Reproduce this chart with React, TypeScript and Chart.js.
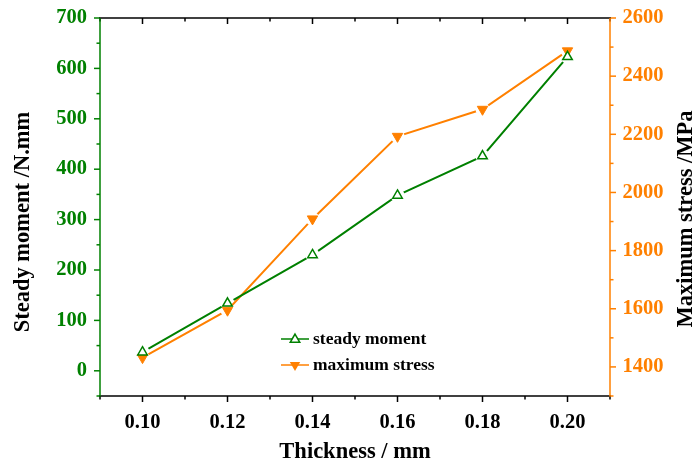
import { useEffect, useRef } from 'react';
import { Chart, registerables } from 'chart.js';

Chart.register(...registerables);

// Thickness of the sheet (mm)
const thickness = [0.10, 0.12, 0.14, 0.16, 0.18, 0.20];
// Steady moment (N.mm), left axis
const steadyMoment = [37, 134, 230, 348, 426, 623];
// Maximum stress (MPa), right axis
const maximumStress = [1432, 1595, 1909, 2193, 2286, 2487];

const seriesLabels = ['steady moment', 'maximum stress'];
const xTitle = 'Thickness / mm';
const leftTitle = 'Steady moment /N.mm';
const rightTitle = 'Maximum stress /MPa';

const GREEN = 'rgb(0,128,0)';
const ORANGE = 'rgb(255,128,0)';
const INK = '#000';
const FONT = "'Liberation Serif', 'Times New Roman', serif";

const TICK_FONT = { family: FONT, size: 20.5, weight: 'bold' as const };

function triangle(ctx: CanvasRenderingContext2D, x: number, y: number, r: number, down: boolean) {
  const s = down ? -1 : 1;
  ctx.beginPath();
  ctx.moveTo(x, y - s * r);
  ctx.lineTo(x + r * Math.sin((2 * Math.PI) / 3), y + s * r / 2);
  ctx.lineTo(x - r * Math.sin((2 * Math.PI) / 3), y + s * r / 2);
  ctx.closePath();
}

// Leaves a small gap in each line around its own markers.
const lineGaps = {
  id: 'lineGaps',
  beforeDatasetDraw(chart: any, args: any) {
    const ds = chart.data.datasets[args.index];
    if (!ds.gapLine) return;
    const { ctx, width, height } = chart;
    ctx.save();
    ctx.beginPath();
    ctx.rect(0, 0, width, height);
    for (const pt of args.meta.data) {
      ctx.moveTo(pt.x + 7, pt.y);
      ctx.arc(pt.x, pt.y, 7, 0, Math.PI * 2);
    }
    ctx.clip('evenodd');
  },
  afterDatasetDraw(chart: any, args: any) {
    const ds = chart.data.datasets[args.index];
    if (!ds.gapLine) return;
    chart.ctx.restore();
  },
};

// Axis frame with major/minor ticks, axis titles and the inset legend.
const frame = {
  id: 'frame',
  afterDraw(chart: any) {
    const { ctx, chartArea: a, scales } = chart;
    ctx.save();
    ctx.lineWidth = 1.5;
    ctx.lineCap = 'butt';

    const seg = (x1: number, y1: number, x2: number, y2: number, c: string) => {
      ctx.strokeStyle = c;
      ctx.beginPath();
      ctx.moveTo(x1, y1);
      ctx.lineTo(x2, y2);
      ctx.stroke();
    };

    // x axis: outward ticks at the bottom, inward ticks at the top
    for (const t of scales.x.ticks) {
      const px = scales.x.getPixelForValue(t.value);
      const len = t.label ? 6 : 3.5;
      seg(px, a.bottom, px, a.bottom + len, INK);
      seg(px, a.top, px, a.top + len, INK);
    }
    for (const t of scales.y.ticks) {
      const py = scales.y.getPixelForValue(t.value);
      const len = t.label ? 6 : 3.5;
      seg(a.left - len, py, a.left, py, GREEN);
    }
    for (const t of scales.y2.ticks) {
      const py = scales.y2.getPixelForValue(t.value);
      const len = t.label ? 6 : 3.5;
      seg(a.right, py, a.right + len, py, ORANGE);
    }
    seg(a.left - 0.75, a.top, a.right + 0.75, a.top, INK);
    seg(a.left - 0.75, a.bottom, a.right + 0.75, a.bottom, INK);
    seg(a.left, a.top, a.left, a.bottom + 0.75, GREEN);
    seg(a.right, a.top, a.right, a.bottom + 0.75, ORANGE);

    // axis titles
    ctx.fillStyle = INK;
    ctx.font = `bold 22.5px ${FONT}`;
    ctx.textAlign = 'center';
    ctx.textBaseline = 'middle';
    ctx.fillText(xTitle, (a.left + a.right) / 2, a.bottom + 56);

    const midY = (a.top + a.bottom) / 2;
    ctx.save();
    ctx.translate(23, midY + 15);
    ctx.rotate(-Math.PI / 2);
    ctx.fillText(leftTitle, 0, 0);
    ctx.restore();

    ctx.save();
    ctx.translate(a.right + 76, midY + 12);
    ctx.rotate(-Math.PI / 2);
    ctx.fillText(rightTitle, 0, 0);
    ctx.restore();

    // legend
    const lx = a.left + 181;
    const rows = [a.top + 321, a.top + 347];
    ctx.font = `bold 17.5px ${FONT}`;
    ctx.textAlign = 'left';
    rows.forEach((ry, i) => {
      const c = i === 0 ? GREEN : ORANGE;
      seg(lx, ry, lx + 28, ry, c);
      const cx = lx + 14;
      if (i === 0) {
        triangle(ctx, cx, ry + 0.5, 5.5, false);
        ctx.fillStyle = '#fff';
        ctx.fill();
        ctx.strokeStyle = GREEN;
        ctx.stroke();
      } else {
        triangle(ctx, cx, ry, 6, true);
        ctx.fillStyle = ORANGE;
        ctx.fill();
      }
      ctx.fillStyle = INK;
      ctx.fillText(seriesLabels[i], lx + 32, ry);
    });

    ctx.restore();
  },
};

const fixWidth = (w: number) => (s: any) => {
  s.width = w;
  s.paddingTop = 0;
  s.paddingBottom = 0;
};

export default function App() {
  const canvasRef = useRef<HTMLCanvasElement | null>(null);

  useEffect(() => {
    const canvas = canvasRef.current;
    if (!canvas) return;

    const momentPts = thickness.map((t, i) => ({ x: t, y: steadyMoment[i] }));
    const stressPts = thickness.map((t, i) => ({ x: t, y: maximumStress[i] }));

    const chart = new Chart(canvas, {
      type: 'line',
      data: {
        datasets: [
          {
            label: seriesLabels[0],
            data: momentPts,
            yAxisID: 'y',
            borderColor: GREEN,
            borderWidth: 2,
            pointRadius: 0,
            fill: false,
            order: 2,
            gapLine: true,
          } as any,
          {
            label: seriesLabels[1],
            data: stressPts,
            yAxisID: 'y2',
            borderColor: ORANGE,
            borderWidth: 2,
            pointRadius: 0,
            fill: false,
            order: 2,
            gapLine: true,
          } as any,
          {
            label: seriesLabels[0],
            data: momentPts,
            yAxisID: 'y',
            showLine: false,
            pointStyle: 'triangle',
            pointRadius: 5.5,
            pointBorderWidth: 1.5,
            pointBorderColor: GREEN,
            pointBackgroundColor: '#fff',
            order: 1,
          },
          {
            label: seriesLabels[1],
            data: stressPts,
            yAxisID: 'y2',
            showLine: false,
            pointStyle: 'triangle',
            pointRotation: 180,
            pointRadius: 6,
            pointBorderWidth: 1,
            pointBorderColor: ORANGE,
            pointBackgroundColor: ORANGE,
            order: 1,
          },
        ],
      },
      options: {
        responsive: false,
        animation: false,
        events: [],
        layout: { padding: { top: 18, left: 0, right: 0, bottom: 0 } },
        plugins: {
          legend: { display: false },
          tooltip: { enabled: false },
          title: { display: false },
        },
        scales: {
          x: {
            type: 'linear',
            position: 'bottom',
            min: 0.09,
            max: 0.21,
            grid: { display: false, drawTicks: false },
            border: { display: false },
            afterFit: (s: any) => { s.height = 65; s.paddingLeft = 0; s.paddingRight = 0; },
            ticks: {
              stepSize: 0.01,
              autoSkip: false,
              maxRotation: 0,
              padding: 14,
              color: INK,
              font: TICK_FONT,
              callback: (v: any) => {
                const k = Math.round(Number(v) * 100);
                return k % 2 === 0 ? (k / 100).toFixed(2) : '';
              },
            },
          },
          y: {
            type: 'linear',
            position: 'left',
            min: -50,
            max: 700,
            grid: { display: false, drawTicks: false },
            border: { display: false },
            afterFit: fixWidth(100),
            ticks: {
              stepSize: 50,
              autoSkip: false,
              padding: 13,
              color: GREEN,
              font: TICK_FONT,
              callback: (v: any) => (Math.round(Number(v)) % 100 === 0 ? String(v) : ''),
            },
          },
          y2: {
            type: 'linear',
            position: 'right',
            min: 1300,
            max: 2600,
            grid: { display: false, drawTicks: false },
            border: { display: false },
            afterFit: fixWidth(87),
            ticks: {
              stepSize: 100,
              autoSkip: false,
              padding: 12.5,
              color: ORANGE,
              font: TICK_FONT,
              callback: (v: any) => (Math.round(Number(v)) % 200 === 0 ? String(v) : ''),
            },
          },
        },
      } as any,
      plugins: [lineGaps, frame],
    });

    return () => chart.destroy();
  }, []);

  return (
    <div style={{ position: 'absolute', left: 0, top: 0, width: 697, height: 461, background: '#fff' }}>
      <canvas ref={canvasRef} width={697} height={461} />
    </div>
  );
}
